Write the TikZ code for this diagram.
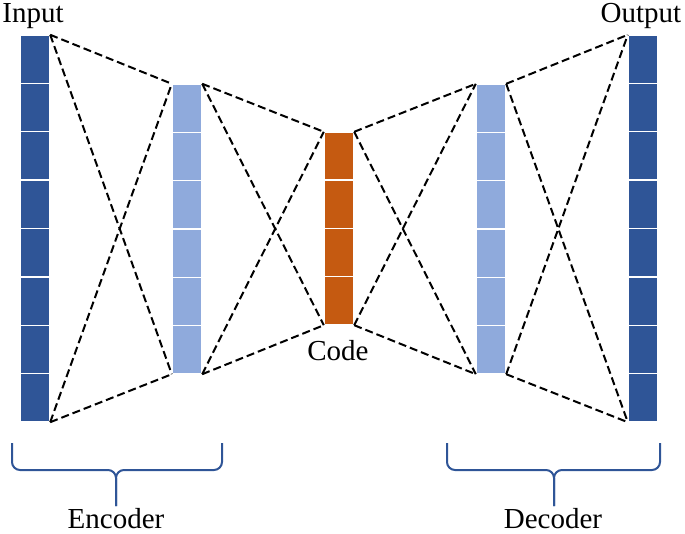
\documentclass[tikz,border=0pt]{standalone}
\usepackage{fontspec}
\setmainfont{Liberation Serif}
\definecolor{darkblue}{RGB}{47,85,151}
\definecolor{lightblue}{RGB}{143,170,220}
\definecolor{codeorange}{RGB}{197,90,17}
\definecolor{bracecol}{RGB}{47,85,151}
\tikzset{
  colbox/.style={inner sep=0pt, minimum width=30pt},
  cell/.style={draw=white, line width=1.4pt, inner sep=0pt, minimum width=30pt, minimum height=48.4pt},
  link/.style={black, line width=2pt, dash pattern=on 8pt off 4pt},
  brace/.style={bracecol, line width=2pt, rounded corners=8pt},
  lbl/.style={font=\fontsize{29}{34}\selectfont, inner sep=0pt, anchor=base}
}
\begin{document}
\begin{tikzpicture}[x=1pt,y=-1pt]
\useasboundingbox (0,0) rectangle (685,534);
% column frames
\node[colbox, minimum height=387pt] (in) at (35,228.5) {};
\node[colbox, minimum height=290pt] (h1) at (187,229) {};
\node[colbox, minimum height=193pt] (code) at (339,228.5) {};
\node[colbox, minimum height=290pt] (h2) at (491,229) {};
\node[colbox, minimum height=387pt] (out) at (643,228.5) {};
% cells
\foreach \i in {1,...,8} {
  \node[cell, fill=darkblue] (in-\i) at (35,{35+(\i-0.5)*48.375}) {};
  \node[cell, fill=darkblue] (out-\i) at (643,{35+(\i-0.5)*48.375}) {};
}
\foreach \i in {1,...,6} {
  \node[cell, fill=lightblue] (h1-\i) at (187,{84+(\i-0.5)*48.33}) {};
  \node[cell, fill=lightblue] (h2-\i) at (491,{84+(\i-0.5)*48.33}) {};
}
\foreach \i in {1,...,4} {
  \node[cell, fill=codeorange] (code-\i) at (339,{132+(\i-0.5)*48.25}) {};
}
% connectors
\foreach \a/\b in {in/h1, h1/code, code/h2, h2/out} {
  \draw[link] (\a.north east) -- (\b.north west);
  \draw[link] (\a.north east) -- (\b.south west);
  \draw[link] (\a.south east) -- (\b.north west);
  \draw[link] (\a.south east) -- (\b.south west);
}
% labels
\node[lbl] (tin) at (33,23) {Input};
\node[lbl] (tout) at (641,23) {Output};
\node[lbl] (tcode) at (338,360) {Code};
\node[lbl] (tenc) at (116,528) {Encoder};
\node[lbl] (tdec) at (553,528) {Decoder};
% braces
\draw[brace] (12,443) -- (12,470) -- (116,470) -- (116,506);
\draw[brace] (222,443) -- (222,470) -- (116,470) -- (116,506);
\draw[brace] (447,443) -- (447,470) -- (554,470) -- (554,506);
\draw[brace] (660,443) -- (660,470) -- (554,470) -- (554,506);
\end{tikzpicture}
\end{document}
